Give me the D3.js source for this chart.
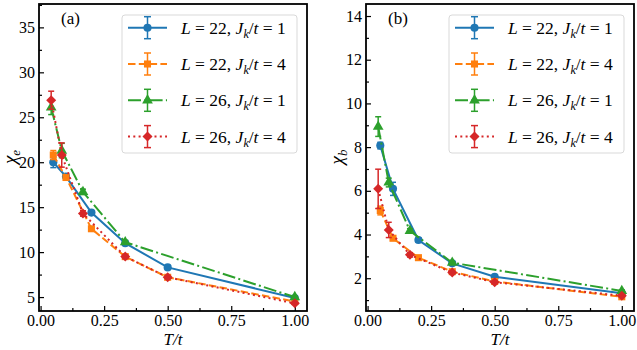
<!DOCTYPE html>
<html>
<head>
<meta charset="utf-8">
<script src="https://cdn.jsdelivr.net/npm/d3@7"></script>
<style>
  body { margin: 0; background: #fff; }
  .tick line { stroke: #000; stroke-width: 1.2; }
</style>
</head>
<body>
<div id="chart"></div>
<script>
// --- Data ---
const xL22 = [0.05, 0.1, 0.2, 0.333, 0.5, 1.0];
const xL26 = [0.0417, 0.0833, 0.1667, 0.333, 0.5, 1.0];
const xL26J1 = [0.0417, 0.0833, 0.1667, 0.333, 1.0];

// panel (a): chi_e
const chiE_L22J1 = [20.0, 18.4, 14.4, 11.0, 8.3, 4.9];
const chiE_L22J1_err = [0.6, 0.3, 0.2, 0.15, 0.1, 0.1];
const chiE_L22J4 = [20.8, 18.3, 12.6, 9.5, 7.2, 4.5];
const chiE_L22J4_err = [0.5, 0.3, 0.2, 0.1, 0.1, 0.1];
const chiE_L26J1 = [26.1, 21.3, 16.7, 11.1, 5.0];
const chiE_L26J1_err = [0.8, 0.8, 0.3, 0.2, 0.1];
const chiE_L26J4 = [26.9, 20.8, 14.3, 9.5, 7.2, 4.3];
const chiE_L26J4_err = [1.0, 1.35, 0.3, 0.2, 0.15, 0.1];

// panel (b): chi_b
const chiB_L22J1 = [8.07, 6.09, 3.75, 2.68, 2.07, 1.31];
const chiB_L22J1_err = [0.15, 0.3, 0.1, 0.05, 0.05, 0.05];
const chiB_L22J4 = [5.1, 3.83, 2.94, 2.3, 1.85, 1.15];
const chiB_L22J4_err = [0.2, 0.1, 0.05, 0.05, 0.05, 0.05];
const chiB_L26J1 = [8.94, 6.38, 4.17, 2.71, 1.42];
const chiB_L26J1_err = [0.45, 0.2, 0.1, 0.05, 0.05];
const chiB_L26J4 = [6.09, 4.21, 3.07, 2.26, 1.82, 1.2];
const chiB_L26J4_err = [0.9, 0.35, 0.1, 0.05, 0.05, 0.05];

const xTicks = [0, 0.25, 0.5, 0.75, 1.0];
const xMinor = [0.125, 0.375, 0.625, 0.875];
const yTicksA = [5, 10, 15, 20, 25, 30, 35];
const yMinorA = [7.5, 12.5, 17.5, 22.5, 27.5, 32.5, 37.5];
const yTicksB = [2, 4, 6, 8, 10, 12, 14];
const yMinorB = [1, 3, 5, 7, 9, 11, 13];

const legendLabels = [
  { L: "22", J: "1" }, { L: "22", J: "4" }, { L: "26", J: "1" }, { L: "26", J: "4" }
];

// --- Styles ---
const FONT = "'Liberation Serif'";
const styles = [
  { color: "#1f77b4", dash: null, marker: "circle" },
  { color: "#ff7f0e", dash: "7.5,3.3", marker: "square" },
  { color: "#2ca02c", dash: "13,3.3,2,3.3", marker: "triangle" },
  { color: "#d62728", dash: "2,3.3", marker: "diamond" }
];

const W = 637, H = 350;
const svg = d3.select("#chart").append("svg").attr("width", W).attr("height", H)
  .style("font-family", FONT);

function markerPath(kind) {
  if (kind === "circle") return d3.symbol(d3.symbolCircle, 52)();
  if (kind === "square") return d3.symbol(d3.symbolSquare, 50)();
  if (kind === "triangle") return d3.symbol(d3.symbolTriangle, 50)();
  return d3.symbol(d3.symbolSquare, 50)();
}
function markerRot(kind) { return kind === "diamond" ? " rotate(45)" : ""; }

function drawPanel(opt) {
  const g = svg.append("g");
  const x = d3.scaleLinear().domain([-0.0062, 1.048]).range([opt.left, opt.right]);
  const y = d3.scaleLinear().domain(opt.yDomain).range([311, 4]);

  // Ticks (inward)
  g.append("g").attr("transform", `translate(0,311)`)
    .call(d3.axisBottom(x).tickValues(xTicks).tickSize(-5).tickPadding(4).tickFormat(d3.format(".2f")))
    .call(a => a.select(".domain").remove());
  g.append("g").attr("transform", `translate(0,311)`)
    .call(d3.axisBottom(x).tickValues(xMinor).tickSize(-3).tickFormat(""))
    .call(a => a.select(".domain").remove());
  g.append("g").attr("transform", `translate(${opt.left},0)`)
    .call(d3.axisLeft(y).tickValues(opt.yTicks).tickSize(-5).tickPadding(4).tickFormat(d3.format("d")))
    .call(a => a.select(".domain").remove());
  g.append("g").attr("transform", `translate(${opt.left},0)`)
    .call(d3.axisLeft(y).tickValues(opt.yMinor).tickSize(-3).tickFormat(""))
    .call(a => a.select(".domain").remove());
  g.selectAll("g").attr("font-family", null);
  g.selectAll(".tick text").style("font-family", FONT).style("font-size", "16px").attr("fill", "#000");

  const clip = "clip" + opt.id;
  g.append("clipPath").attr("id", clip).append("rect")
    .attr("x", opt.left).attr("y", 4).attr("width", opt.right - opt.left).attr("height", 307);
  const plot = g.append("g").attr("clip-path", `url(#${clip})`);

  opt.series.forEach((s, i) => {
    const st = styles[i];
    const pts = s.x.map((xv, j) => ({ x: xv, y: s.y[j], e: s.e[j] }));
    const line = d3.line().x(d => x(d.x)).y(d => y(d.y));
    plot.append("path").datum(pts).attr("d", line)
      .attr("fill", "none").attr("stroke", st.color).attr("stroke-width", 2)
      .attr("stroke-dasharray", st.dash);
    const eb = plot.append("g").attr("stroke", st.color).attr("stroke-width", 1.5);
    pts.forEach(d => {
      eb.append("line").attr("x1", x(d.x)).attr("x2", x(d.x)).attr("y1", y(d.y - d.e)).attr("y2", y(d.y + d.e));
      [d.y - d.e, d.y + d.e].forEach(v => {
        eb.append("line").attr("x1", x(d.x) - 3).attr("x2", x(d.x) + 3).attr("y1", y(v)).attr("y2", y(v));
      });
    });
    plot.selectAll(null).data(pts).enter().append("path")
      .attr("d", markerPath(st.marker))
      .attr("transform", d => `translate(${x(d.x)},${y(d.y)})` + markerRot(st.marker))
      .attr("fill", st.color);
  });

  // Frame
  g.append("rect").attr("x", opt.left).attr("y", 4)
    .attr("width", opt.right - opt.left).attr("height", 307)
    .attr("fill", "none").attr("stroke", "#000").attr("stroke-width", 1.8);

  // Panel label
  g.append("text").attr("x", opt.left + 22).attr("y", 24).style("font-size", "17px").text(opt.tag);

  // Axis labels
  g.append("text").attr("x", (opt.left + opt.right) / 2).attr("y", 345)
    .attr("text-anchor", "middle").style("font-size", "17px").attr("font-style", "italic")
    .text("T/t");
  const yl = g.append("text").attr("transform", `translate(${opt.left - 23},157) rotate(-90)`)
    .attr("text-anchor", "middle").style("font-size", "19px").attr("font-style", "italic");
  yl.append("tspan").text("χ");
  yl.append("tspan").style("font-size", "13px").attr("dy", 4).text(opt.sub);

  // Legend
  const lx = opt.right - 185, ly = 15;
  g.append("rect").attr("x", lx).attr("y", ly).attr("width", 175).attr("height", 138)
    .attr("rx", 3).attr("fill", "#fff").attr("fill-opacity", 0.8)
    .attr("stroke", "#d9d9d9").attr("stroke-width", 1);
  legendLabels.forEach((lab, i) => {
    const st = styles[i];
    const cy = ly + 12.7 + i * 36.3;
    const hg = g.append("g");
    hg.append("line").attr("x1", lx + 6).attr("x2", lx + 45).attr("y1", cy).attr("y2", cy)
      .attr("stroke", st.color).attr("stroke-width", 2).attr("stroke-dasharray", st.dash);
    hg.append("line").attr("x1", lx + 25.5).attr("x2", lx + 25.5).attr("y1", cy - 11).attr("y2", cy + 11)
      .attr("stroke", st.color).attr("stroke-width", 1.5);
    [cy - 11, cy + 11].forEach(v => hg.append("line").attr("x1", lx + 22).attr("x2", lx + 29)
      .attr("y1", v).attr("y2", v).attr("stroke", st.color).attr("stroke-width", 1.5));
    hg.append("path").attr("d", markerPath(st.marker))
      .attr("transform", `translate(${lx + 25.5},${cy})` + markerRot(st.marker)).attr("fill", st.color);
    const t = g.append("text").attr("x", lx + 59).attr("y", cy + 6).style("font-size", "17.5px");
    t.append("tspan").attr("font-style", "italic").text("L");
    t.append("tspan").text(" = " + lab.L + ", ");
    t.append("tspan").attr("font-style", "italic").text("J");
    t.append("tspan").attr("font-style", "italic").style("font-size", "12px").attr("dy", 4).text("k");
    t.append("tspan").attr("dy", -4).text("/");
    t.append("tspan").attr("font-style", "italic").text("t");
    t.append("tspan").text(" = " + lab.J);
  });
}

drawPanel({
  id: "a", tag: "(a)", sub: "e", left: 39, right: 307, yDomain: [3.45, 37.6],
  yTicks: yTicksA, yMinor: yMinorA,
  series: [
    { x: xL22, y: chiE_L22J1, e: chiE_L22J1_err },
    { x: xL22, y: chiE_L22J4, e: chiE_L22J4_err },
    { x: xL26J1, y: chiE_L26J1, e: chiE_L26J1_err },
    { x: xL26, y: chiE_L26J4, e: chiE_L26J4_err }
  ]
});
drawPanel({
  id: "b", tag: "(b)", sub: "b", left: 366, right: 634, yDomain: [0.5, 14.55],
  yTicks: yTicksB, yMinor: yMinorB,
  series: [
    { x: xL22, y: chiB_L22J1, e: chiB_L22J1_err },
    { x: xL22, y: chiB_L22J4, e: chiB_L22J4_err },
    { x: xL26J1, y: chiB_L26J1, e: chiB_L26J1_err },
    { x: xL26, y: chiB_L26J4, e: chiB_L26J4_err }
  ]
});
</script>
</body>
</html>
